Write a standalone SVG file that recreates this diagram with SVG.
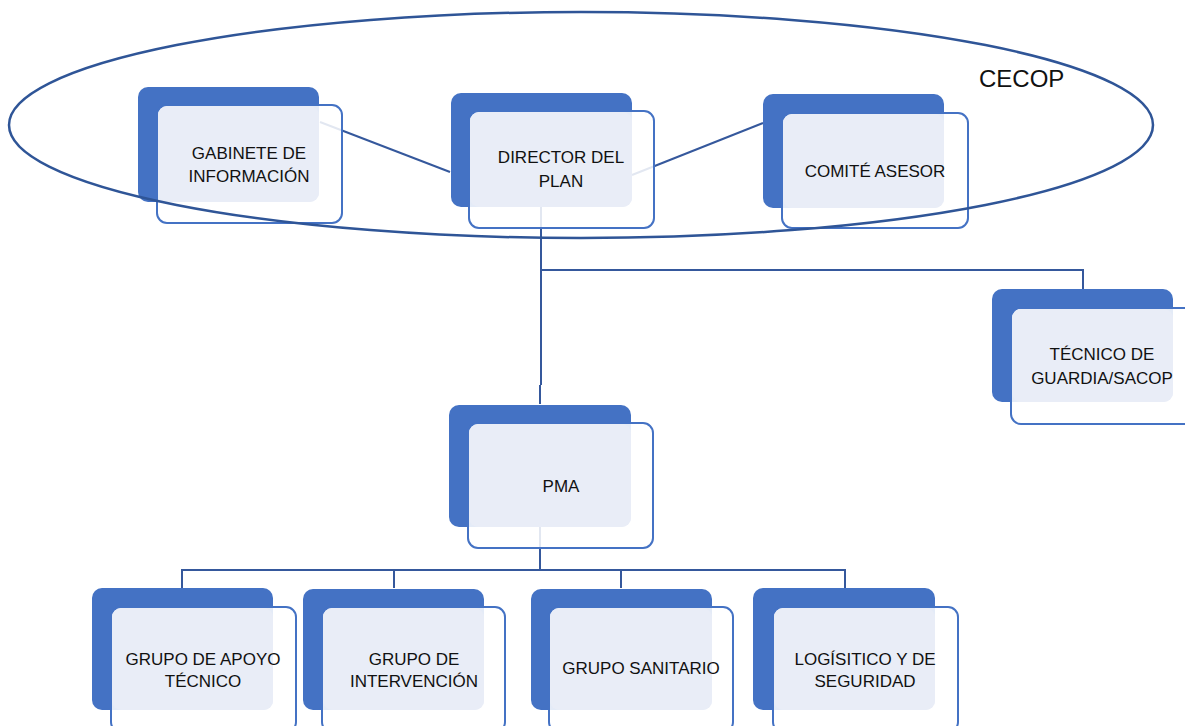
<svg xmlns="http://www.w3.org/2000/svg" width="1185" height="726" viewBox="0 0 1185 726">
  <style>
    .back { fill: #4472C4; }
    .front { fill: #FFFFFF; fill-opacity: 0.86; stroke: #4472C4; stroke-width: 2; }
    .tint { fill: #E9EDF7; }
    .lbl { font-family: "Liberation Sans", Arial, sans-serif; font-size: 17px; fill: #111111; text-anchor: middle; }
    .link { fill: none; stroke: #35589C; stroke-width: 2; }
    .zone { fill: none; stroke: #2F5597; stroke-width: 2.5; }
  </style>

  <rect width="1185" height="726" fill="#FFFFFF"/>

  <!-- connectors -->
  <g id="connectors">
    <line class="link" x1="320" y1="122" x2="450" y2="172"/>
    <line class="link" x1="632" y1="175" x2="763" y2="123"/>
    <path class="link" d="M541 207 V385 M540 385 V404"/>
    <path class="link" d="M541 270 H1083 V289"/>
    <path class="link" d="M540 527 V570"/>
    <path class="link" d="M182 588 V570 H845 V588"/>
    <path class="link" d="M394 570 V588"/>
    <path class="link" d="M621 570 V588"/>
  </g>

  <g id="gabinete">
    <rect class="back" x="138" y="87" width="181" height="115" rx="10"/>
    <rect class="front" x="157" y="105" width="185" height="118" rx="10"/>
    <rect class="tint" x="158" y="106" width="161" height="96" rx="9"/>
    <text class="lbl" x="249" y="159">GABINETE DE</text>
    <text class="lbl" x="249" y="182">INFORMACIÓN</text>
  </g>

  <g id="director">
    <rect class="back" x="451" y="93" width="181" height="114" rx="10"/>
    <rect class="front" x="469" y="111" width="185" height="117" rx="10"/>
    <rect class="tint" x="470" y="112" width="162" height="95" rx="9"/>
    <text class="lbl" x="561" y="163">DIRECTOR DEL</text>
    <text class="lbl" x="561" y="187">PLAN</text>
  </g>

  <g id="comite">
    <rect class="back" x="763" y="94" width="181" height="114" rx="10"/>
    <rect class="front" x="782" y="113" width="186" height="115" rx="10"/>
    <rect class="tint" x="783" y="114" width="161" height="94" rx="9"/>
    <text class="lbl" x="875" y="177">COMITÉ ASESOR</text>
  </g>

  <g id="tecnico-guardia">
    <rect class="back" x="992" y="289" width="181" height="113" rx="10"/>
    <rect class="front" x="1011" y="308" width="185" height="116" rx="10"/>
    <rect class="tint" x="1012" y="309" width="161" height="93" rx="9"/>
    <text class="lbl" x="1102" y="360">TÉCNICO DE</text>
    <text class="lbl" x="1102" y="384">GUARDIA/SACOP</text>
  </g>

  <g id="pma">
    <rect class="back" x="449" y="405" width="182" height="122" rx="10"/>
    <rect class="front" x="468" y="423" width="185" height="125" rx="10"/>
    <rect class="tint" x="469" y="424" width="162" height="103" rx="9"/>
    <text class="lbl" x="561" y="492">PMA</text>
  </g>

  <g id="apoyo-tecnico">
    <rect class="back" x="92" y="588" width="181" height="122" rx="10"/>
    <rect class="front" x="111" y="607" width="185" height="125" rx="10"/>
    <rect class="tint" x="112" y="608" width="161" height="102" rx="9"/>
    <text class="lbl" x="203" y="665">GRUPO DE APOYO</text>
    <text class="lbl" x="203" y="687">TÉCNICO</text>
  </g>

  <g id="intervencion">
    <rect class="back" x="303" y="589" width="181" height="121" rx="10"/>
    <rect class="front" x="322" y="607" width="183" height="125" rx="10"/>
    <rect class="tint" x="323" y="608" width="161" height="102" rx="9"/>
    <text class="lbl" x="414" y="665">GRUPO DE</text>
    <text class="lbl" x="414" y="687">INTERVENCIÓN</text>
  </g>

  <g id="sanitario">
    <rect class="back" x="531" y="589" width="181" height="121" rx="10"/>
    <rect class="front" x="549" y="607" width="184" height="125" rx="10"/>
    <rect class="tint" x="550" y="608" width="162" height="102" rx="9"/>
    <text class="lbl" x="641" y="674">GRUPO SANITARIO</text>
  </g>

  <g id="logistico">
    <rect class="back" x="753" y="588" width="182" height="122" rx="10"/>
    <rect class="front" x="773" y="607" width="185" height="125" rx="10"/>
    <rect class="tint" x="774" y="608" width="161" height="102" rx="9"/>
    <text class="lbl" x="865" y="665">LOGÍSITICO Y DE</text>
    <text class="lbl" x="865" y="687">SEGURIDAD</text>
  </g>

  <!-- CECOP boundary, drawn over the top row -->
  <g id="cecop">
    <ellipse class="zone" cx="581" cy="125" rx="572" ry="113"/>
    <text x="979" y="87" font-family="Liberation Sans, Arial, sans-serif" font-size="24" fill="#111111">CECOP</text>
  </g>
</svg>
